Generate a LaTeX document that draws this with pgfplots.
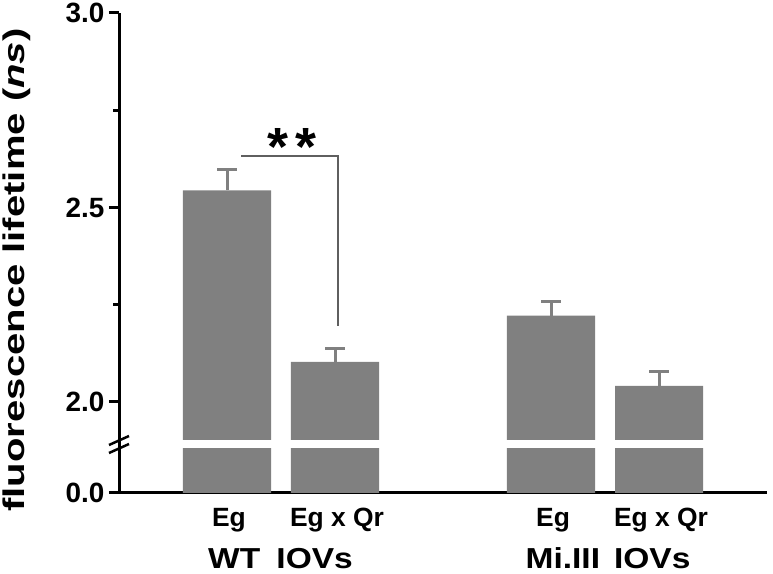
\documentclass[border=0pt]{standalone}
\usepackage{pgfplots}
\pgfplotsset{compat=1.18}
\usepackage{pgfplotstable}
\usepackage{fontspec}
\setmainfont{Liberation Sans}
\usepackage{graphicx}
\definecolor{bargray}{RGB}{128,128,128}
\definecolor{brk}{RGB}{95,95,95}

\pgfplotstableread{
x y e
1 2.544 0.054
2 2.103 0.034
4 2.222 0.036
5 2.041 0.036
}\datatable

\pgfplotsset{
 common/.style={
  scale only axis, width=648bp, xmin=0, xmax=6,
  ybar, bar width=0.815,
  axis line style={line width=3bp, -},
  every tick/.style={line width=3bp, black},
  tick align=outside,
  major tick length=10bp, minor tick length=6bp,
  ytick pos=left,
  yticklabel={\fontsize{28}{28}\selectfont\bfseries\pgfmathprintnumber[fixed,fixed zerofill,precision=1,assume math mode=true]{\tick}},
  yticklabel style={anchor=east, xshift=-1bp},
 }
}

\begin{document}
\begin{tikzpicture}[x=1bp,y=1bp]
\useasboundingbox (0,0) rectangle (773,574);

% upper part of the broken axis
\begin{axis}[common, at={(119bp,134bp)}, anchor=south west, height=427bp,
  ymin=1.902, ymax=3.0,
  axis x line=none, axis y line*=left,
  ytick={2,2.5,3}, minor ytick={2.25,2.75}, xtick=\empty]
\addplot[fill=bargray, draw=none,
  error bars/.cd, y dir=plus, y explicit,
  error bar style={line width=3bp, bargray},
  error mark options={rotate=90, mark size=10bp, line width=3bp, bargray}]
  table[x=x, y=y, y error=e]{\datatable};
\end{axis}

% lower part of the broken axis
\begin{axis}[common, at={(119bp,81bp)}, anchor=south west, height=44bp,
  ymin=0, ymax=1,
  axis x line*=bottom, axis y line*=left,
  ytick={0}, xtick={1,2,4,5},
  xticklabels={Eg, Eg x Qr, Eg, Eg x Qr},
  x tick style={draw=none},
  xticklabel style={font=\fontsize{26.5}{26.5}\selectfont\bfseries, anchor=base, yshift=-24bp, xshift=2bp}]
\addplot[fill=bargray, draw=none] table[x=x, y=y]{\datatable};
\end{axis}

% axis continuation and break marks
\draw[line width=3bp] (119,124) -- (119,135);
\draw[line width=2.5bp] (109,129) -- (129,138);
\draw[line width=2.5bp] (109,121) -- (129,130);

% significance bracket
\draw[brk, line width=1.3bp] (241,418) -- (338,418) -- (338,248);
\node[font=\fontsize{54}{54}\selectfont\bfseries] at (292,427) {*\kern7bp*};

% labels
\node[rotate=90, font=\fontsize{30}{30}\selectfont\bfseries] at (17,304)
  {\scalebox{1.34}[1]{fluorescence lifetime (\textit{ns})}};
\node[anchor=base, font=\fontsize{29}{29}\selectfont\bfseries] at (280.5,5) {\scalebox{1.16}[1]{WT\kern6bp{} IOVs}};
\node[anchor=base, font=\fontsize{29}{29}\selectfont\bfseries] at (608,5) {\scalebox{1.16}[1]{Mi.III\kern4bp{} IOVs}};
\end{tikzpicture}
\end{document}
